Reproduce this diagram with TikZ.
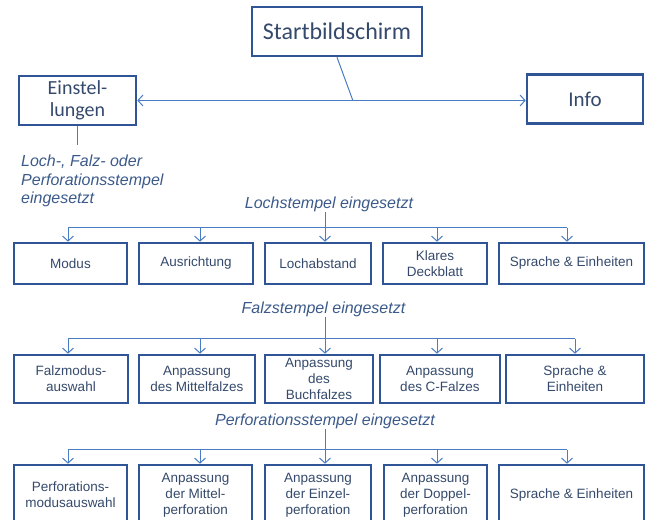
\documentclass[tikz,border=0pt]{standalone}
\usepackage{fontspec}
\setmainfont{Liberation Sans}
\newfontfamily\calibrifont{Carlito}
\usetikzlibrary{arrows.meta}
\definecolor{boxblue}{HTML}{2F5597}
\definecolor{lineblue}{HTML}{4A7CC4}
\definecolor{textblue}{HTML}{34496B}
\definecolor{labelblue}{HTML}{3B5A8A}

\begin{document}
\begin{tikzpicture}[x=1pt, y=-1pt,
  box/.style={draw=boxblue, line width=2.6pt, inner sep=1pt, align=center, text=textblue, font=\fontsize{13.5}{16}\selectfont},
  bigbox/.style={draw=boxblue, line width=2.6pt, inner sep=2pt, align=center, text=textblue, font=\calibrifont\fontsize{20}{21.5}\selectfont},
  lbl/.style={text=labelblue, font=\itshape\fontsize{16}{18.5}\selectfont, inner sep=0pt},
  conn/.style={draw=lineblue, line width=1pt},
  arr/.style={conn, -{Straight Barb[length=5pt,width=11pt]}},
  ]
  \useasboundingbox (0,0) rectangle (650,519);
  \clip (0,0) rectangle (650,519);

  % top level
  \node[bigbox, font=\calibrifont\fontsize{24}{26}\selectfont, minimum width=170pt, minimum height=49pt] (start) at (337,31.5) {Startbildschirm};
  \node[bigbox, minimum width=117pt, minimum height=49pt] (einst) at (77.5,100.5) {Einstel-\\lungen};
  \node[bigbox, font=\calibrifont\fontsize{21}{22}\selectfont, minimum width=116pt, minimum height=49pt] (info) at (585,99) {Info};
  \draw[conn, {Straight Barb[length=5pt,width=11pt]}-{Straight Barb[length=5pt,width=11pt]}] (einst.east) -- coordinate[pos=0.555] (junc) (einst.east -| info.west);
  \draw[conn] (start.south) -- (junc);

  \node[lbl, anchor=north west, align=left] (einlbl) at (21,155) {Loch-, Falz- oder\\Perforationsstempel\\eingesetzt};
  \coordinate (einend) at ([yshift=-19pt]einst.south);
  \draw[conn] (einst.south) -- (einend);

  % Lochstempel
  \node[lbl] (lochlbl) at (329,204) {Lochstempel eingesetzt};
  \node[box, minimum width=113pt, minimum height=41pt] (modus) at (70.5,263.5) {Modus};
  \node[box, minimum width=114pt, minimum height=41pt] (ausr) at (196,263.5) {Ausrichtung};
  \node[box, minimum width=106pt, minimum height=41pt] (lochab) at (318,263.5) {Lochabstand};
  \node[box, minimum width=104pt, minimum height=41pt] (deckbl) at (435,263.5) {Klares\\Deckblatt};
  \node[box, minimum width=145pt, minimum height=41pt] (sprache1) at (571.5,263.5) {Sprache \& Einheiten};
  \coordinate (lochhub) at ([xshift=7pt,yshift=14pt]lochab.north);
  \draw[conn] (lochlbl.south -| lochhub) -- (lochhub);
  \draw[conn] ([xshift=-2.5pt,yshift=14pt]modus.north) -- ([xshift=-4.5pt,yshift=14pt]sprache1.north);
  \draw[arr] ([xshift=-2.5pt,yshift=14pt]modus.north) -- ([xshift=-2.5pt]modus.north);
  \draw[arr] ([xshift=4pt,yshift=14pt]ausr.north) -- ([xshift=4pt]ausr.north);
  \draw[arr] (lochhub) -- ([xshift=7pt]lochab.north);
  \draw[arr] ([xshift=2pt,yshift=14pt]deckbl.north) -- ([xshift=2pt]deckbl.north);
  \draw[arr] ([xshift=-4.5pt,yshift=14pt]sprache1.north) -- ([xshift=-4.5pt]sprache1.north);

  % Falzstempel
  \node[lbl] (falzlbl) at (323.5,309) {Falzstempel eingesetzt};
  \node[box, minimum width=114pt, minimum height=48pt] (falzmodus) at (71,379) {Falzmodus-\\auswahl};
  \node[box, minimum width=116pt, minimum height=48pt] (mittelf) at (197,379) {Anpassung\\des Mittelfalzes};
  \node[box, minimum width=108pt, minimum height=48pt] (buchf) at (319,379) {Anpassung\\des\\Buchfalzes};
  \node[box, minimum width=120pt, minimum height=48pt] (cfalz) at (440,379) {Anpassung\\des C-Falzes};
  \node[box, minimum width=138pt, minimum height=48pt] (sprache2) at (575,379) {Sprache \&\\Einheiten};
  \coordinate (falzhub) at ([xshift=6pt,yshift=15pt]buchf.north);
  \draw[conn] (falzlbl.south -| falzhub) -- (falzhub);
  \draw[conn] ([xshift=-3pt,yshift=15pt]falzmodus.north) -- ([yshift=15pt]sprache2.north);
  \draw[arr] ([xshift=-3pt,yshift=15pt]falzmodus.north) -- ([xshift=-3pt]falzmodus.north);
  \draw[arr] ([xshift=3pt,yshift=15pt]mittelf.north) -- ([xshift=3pt]mittelf.north);
  \draw[arr] (falzhub) -- ([xshift=6pt]buchf.north);
  \draw[arr] ([xshift=-3pt,yshift=15pt]cfalz.north) -- ([xshift=-3pt]cfalz.north);
  \draw[arr] ([yshift=15pt]sprache2.north) -- (sprache2.north);

  % Perforationsstempel
  \node[lbl] (perflbl) at (325,421) {Perforationsstempel eingesetzt};
  \node[box, minimum width=113pt, minimum height=60pt] (perfmodus) at (70.5,495) {Perforations-\\modusauswahl};
  \node[box, minimum width=113pt, minimum height=60pt] (mittelp) at (195.5,495) {Anpassung\\der Mittel-\\perforation};
  \node[box, minimum width=106pt, minimum height=60pt] (einzelp) at (318,495) {Anpassung\\der Einzel-\\perforation};
  \node[box, minimum width=103pt, minimum height=60pt] (doppelp) at (435.5,495) {Anpassung\\der Doppel-\\perforation};
  \node[box, minimum width=145pt, minimum height=60pt] (sprache3) at (571.5,495) {Sprache \& Einheiten};
  \coordinate (perfhub) at ([xshift=7pt,yshift=14pt]einzelp.north);
  \draw[conn] (perflbl.south -| perfhub) -- (perfhub);
  \draw[conn] ([xshift=-2.5pt,yshift=14pt]perfmodus.north) -- ([xshift=-4.5pt,yshift=14pt]sprache3.north);
  \draw[arr] ([xshift=-2.5pt,yshift=14pt]perfmodus.north) -- ([xshift=-2.5pt]perfmodus.north);
  \draw[arr] ([xshift=4.5pt,yshift=14pt]mittelp.north) -- ([xshift=4.5pt]mittelp.north);
  \draw[arr] (perfhub) -- ([xshift=7pt]einzelp.north);
  \draw[arr] ([xshift=1.5pt,yshift=14pt]doppelp.north) -- ([xshift=1.5pt]doppelp.north);
  \draw[arr] ([xshift=-4.5pt,yshift=14pt]sprache3.north) -- ([xshift=-4.5pt]sprache3.north);
\end{tikzpicture}
\end{document}
